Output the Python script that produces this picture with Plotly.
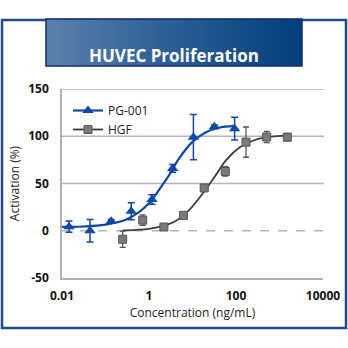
import plotly.graph_objects as go

# ---- data ----
pg_x = [0.0145, 0.044, 0.135, 0.39, 1.17, 3.5, 10.5, 31.8, 93]
pg_y = [4.3, 0, 10, 20.6, 33, 66, 99, 110, 108]
pg_err = [6, 12, 2, 9, 5, 4, 24, 2, 12]

hgf_x = [0.248, 0.716, 2.2, 6.2, 18.6, 56.8, 170, 508, 1514]
hgf_y = [-9, 11.2, 4, 16.3, 45.3, 62.7, 93.8, 99.2, 99]
hgf_err = [8.5, 5.5, 2, 2, 2, 5, 16, 6, 4]

# fitted curves
pg_fit_x = [0.01, 0.03, 0.1, 0.3, 0.6, 1, 2, 3, 5, 10, 20, 40, 93]
pg_fit_y = [4, 4.5, 6.5, 12, 20, 29, 48, 60, 77, 94, 104, 109, 111]
hgf_fit_x = [0.25, 0.5, 1, 2, 4, 8, 16, 30, 60, 120, 250, 500, 1500]
hgf_fit_y = [0.4, 1, 2, 4.8, 10, 21, 37.5, 55, 75, 88, 95.5, 99, 101]

y_ticks = [-50, 0, 50, 100, 150]
y_tick_labels = ["-50", "0", "50", "100", "150"]
x_ticks = [0.01, 1, 100, 10000]
x_tick_labels = ["0.01", "1", "100", "10000"]

title_text = "HUVEC Proliferation"
BLUE = "#0d47a8"
GRAY_L = "#3c3c3c"
TICKC = "#b0b0b0"
W = H = 348.0


def px(x):
    return x / W


def py(y):
    return 1 - y / H


def lerp_color(c0, c1, t):
    a = [int(c0[i:i + 2], 16) for i in (1, 3, 5)]
    b = [int(c1[i:i + 2], 16) for i in (1, 3, 5)]
    return "rgb(%d,%d,%d)" % tuple(round(a[k] + (b[k] - a[k]) * t) for k in range(3))


fig = go.Figure()

# fits
fig.add_trace(go.Scatter(x=pg_fit_x, y=pg_fit_y, mode="lines", line=dict(color=BLUE, width=2.2, shape="spline"),
                         showlegend=False, hoverinfo="skip"))
fig.add_trace(go.Scatter(x=hgf_fit_x, y=hgf_fit_y, mode="lines", line=dict(color=GRAY_L, width=1.8, shape="spline"),
                         showlegend=False, hoverinfo="skip"))

# points
fig.add_trace(go.Scatter(x=hgf_x, y=hgf_y, mode="markers",
                         marker=dict(symbol="square", size=8, color="#7a7a7a", line=dict(color="#555555", width=1)),
                         error_y=dict(type="data", array=hgf_err, color="#555555", thickness=1.3, width=3),
                         showlegend=False))
fig.add_trace(go.Scatter(x=pg_x, y=pg_y, mode="markers",
                         marker=dict(symbol="triangle-up", size=10, color=BLUE),
                         error_y=dict(type="data", array=pg_err, color=BLUE, thickness=1.5, width=3.5),
                         showlegend=False))

# legend dummies
fig.add_trace(go.Scatter(x=[None], y=[None], mode="lines+markers", name="PG-001",
                         line=dict(color=BLUE, width=2.2),
                         marker=dict(symbol="triangle-up", size=10, color=BLUE)))
fig.add_trace(go.Scatter(x=[None], y=[None], mode="lines+markers", name="HGF",
                         line=dict(color=GRAY_L, width=1.8),
                         marker=dict(symbol="square", size=8, color="#7a7a7a", line=dict(color="#555555", width=1))))

# tick triangles
fig.add_trace(go.Scatter(x=[10 ** -2.09] * len(y_ticks), y=y_ticks, mode="markers",
                         marker=dict(symbol="triangle-right", size=8, color=TICKC),
                         cliponaxis=False, showlegend=False, hoverinfo="skip"))
fig.add_trace(go.Scatter(x=x_ticks, y=[-55.5] * len(x_ticks), mode="markers",
                         marker=dict(symbol="triangle-up", size=8, color=TICKC),
                         cliponaxis=False, showlegend=False, hoverinfo="skip"))

shapes = [
    dict(type="rect", xref="paper", yref="paper", x0=px(2), x1=px(346), y0=py(328), y1=py(20),
         line=dict(color="#1c4a8a", width=2.5), layer="below"),
]
# banner gradient
bx0, bx1, by0, by1 = 46, 302, 19, 66
n = 64
for i in range(n):
    t = i / (n - 1)
    if t < 0.5:
        col = lerp_color("#5b80ac", "#2a5d94", t / 0.5)
    else:
        col = lerp_color("#2a5d94", "#033f7c", (t - 0.5) / 0.5)
    xa = bx0 + (bx1 - bx0) * i / n
    xb = bx0 + (bx1 - bx0) * (i + 1) / n + 0.6
    shapes.append(dict(type="rect", xref="paper", yref="paper", x0=px(xa), x1=px(min(xb, bx1)),
                       y0=py(by1), y1=py(by0), line=dict(width=0), fillcolor=col, layer="below"))
shapes.append(dict(type="rect", xref="paper", yref="paper", x0=px(bx0), x1=px(bx1), y0=py(by1), y1=py(by0),
                   line=dict(color="#0b2f6e", width=1.5), layer="below"))
for v in [150, 100, 50]:
    shapes.append(dict(type="line", xref="paper", yref="y", x0=px(62), x1=px(324), y0=v, y1=v,
                       line=dict(color="#b4b4b4", width=1.3), layer="below"))
shapes.append(dict(type="line", xref="paper", yref="y", x0=px(62), x1=px(324), y0=0, y1=0,
                   line=dict(color="#b4b4b4", width=1.3, dash="dash"), layer="below"))

fig.update_layout(
    width=348, height=348, margin=dict(l=0, r=0, t=0, b=0),
    paper_bgcolor="white", plot_bgcolor="rgba(0,0,0,0)",
    font=dict(family="Open Sans, Noto Sans, sans-serif", color="#111111", size=12),
    xaxis=dict(type="log", range=[-2, 4], domain=[px(62), px(323)],
               tickvals=x_ticks, ticktext=x_tick_labels, showgrid=False, zeroline=False,
               showline=True, linecolor=TICKC, linewidth=1.5, ticks="",
               tickfont=dict(size=12, color="#111111", family="Open Sans, sans-serif", weight="bold"),
               ticklabelstandoff=6, automargin=False,
               title=dict(text="Concentration (ng/mL)", font=dict(size=12, color="#222222"), standoff=2)),
    yaxis=dict(range=[-50, 150], domain=[py(278), py(89)],
               tickvals=y_ticks, ticktext=y_tick_labels, showgrid=False, zeroline=False,
               showline=True, linecolor=TICKC, linewidth=1.5, ticks="",
               tickfont=dict(size=12, color="#111111", family="Open Sans, sans-serif", weight="bold"),
               ticklabelstandoff=9, automargin=False,
               title=dict(text="Activation (%)", font=dict(size=12, color="#222222"), standoff=6)),
    legend=dict(x=px(68), y=py(96), xanchor="left", yanchor="top",
                bgcolor="rgba(0,0,0,0)", font=dict(size=12, color="#222222"),
                itemwidth=30, tracegroupgap=0),
    showlegend=True,
    shapes=shapes,
    annotations=[dict(text="<b>" + title_text + "</b>", x=px(174), y=py(42), xref="paper", yref="paper",
                      showarrow=False, font=dict(size=17, color="white", family="Open Sans, sans-serif"))],
)

fig.write_html("out.html")
